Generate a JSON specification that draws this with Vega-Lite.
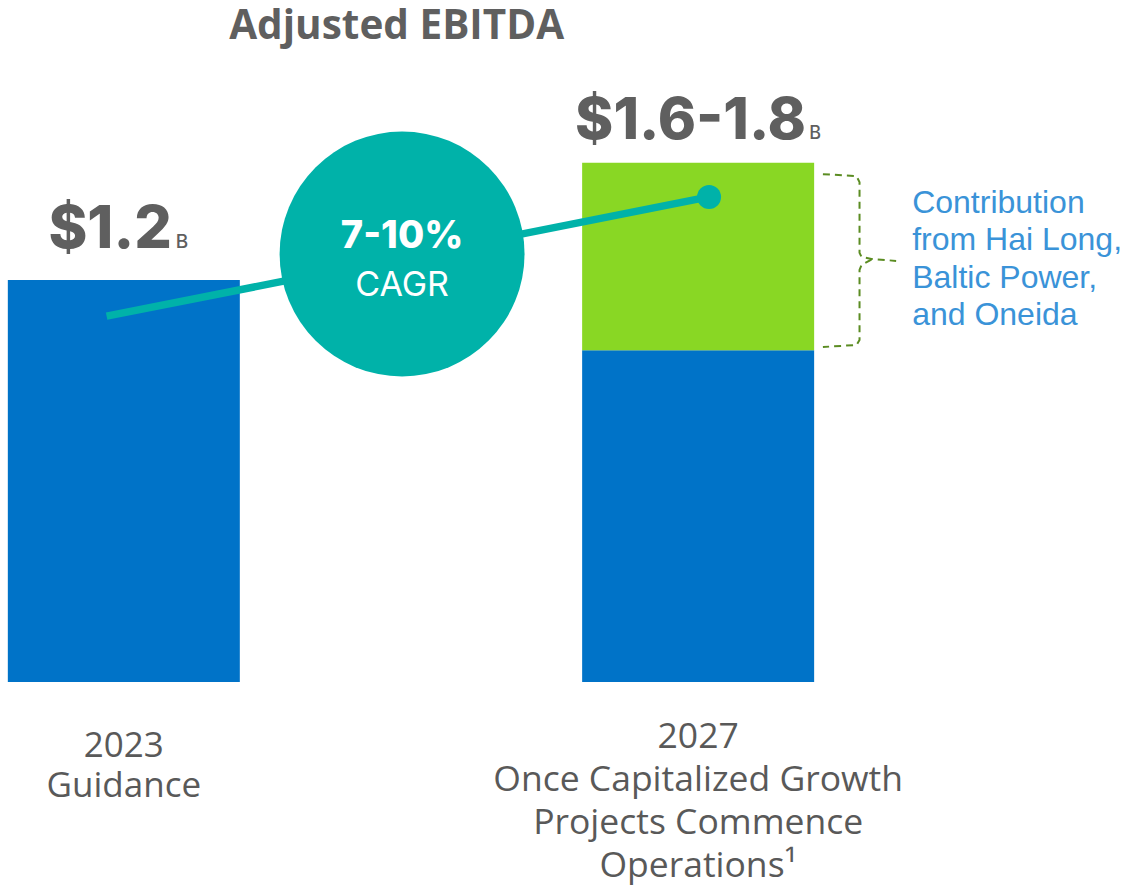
{
  "$schema": "https://vega.github.io/schema/vega-lite/v6.json",
  "width": 1122,
  "height": 890,
  "autosize": {"type": "fit", "contains": "padding"},
  "padding": 0,
  "background": "white",
  "config": {"view": {"stroke": null}},
  "datasets": {
    "ebitda": [
      {"period": "2023\nGuidance", "year": 2023, "component": "Base business", "low": 0, "high": 1.2, "label": "$1.2", "unit": "B"},
      {"period": "2027\nOnce Capitalized Growth\nProjects Commence\nOperations¹", "year": 2027, "component": "Base business", "low": 0, "high": 0.99},
      {"year": 2027, "component": "Contribution", "low": 0.99, "high": 1.55, "label": "$1.6-1.8", "unit": "B", "note": "Contribution\nfrom Hai Long,\nBaltic Power,\nand Oneida"}
    ],
    "cagr": [
      {"year": 2022.88, "value": 1.092},
      {"year": 2027.076, "value": 1.448}
    ],
    "cagr_label": [{"range": "7-10%", "metric": "CAGR"}],
    "bracket": [
      {"arm": "upper", "order": 1, "year": 2027.869, "value": 1.516},
      {"arm": "upper", "order": 2, "year": 2028.103, "value": 1.510},
      {"arm": "upper", "order": 3, "year": 2028.124, "value": 1.492},
      {"arm": "upper", "order": 4, "year": 2028.124, "value": 1.281},
      {"arm": "upper", "order": 5, "year": 2028.138, "value": 1.269},
      {"arm": "upper", "order": 6, "year": 2028.207, "value": 1.263},
      {"arm": "upper", "order": 7, "year": 2028.379, "value": 1.257},
      {"arm": "lower", "order": 1, "year": 2028.207, "value": 1.261},
      {"arm": "lower", "order": 2, "year": 2028.138, "value": 1.245},
      {"arm": "lower", "order": 3, "year": 2028.124, "value": 1.230},
      {"arm": "lower", "order": 4, "year": 2028.124, "value": 1.021},
      {"arm": "lower", "order": 5, "year": 2028.103, "value": 1.006},
      {"arm": "lower", "order": 6, "year": 2027.869, "value": 1.0}
    ],
    "title": [{"title": "Adjusted EBITDA"}]
  },
  "layer": [
    {
      "data": {"name": "ebitda"},
      "mark": {"type": "bar", "width": 232},
      "encoding": {
        "x": {"field": "year", "type": "quantitative", "scale": {"domain": [2022.1724, 2029.9103], "nice": false, "zero": false}, "axis": null},
        "y": {"field": "low", "type": "quantitative", "scale": {"domain": [-0.6209, 2.0358], "nice": false, "zero": false}, "axis": null},
        "y2": {"field": "high"},
        "color": {"field": "component", "type": "nominal", "scale": {"domain": ["Base business", "Contribution"], "range": ["#0073c8", "#89d724"]}, "legend": null}
      }
    },
    {
      "data": {"name": "cagr"},
      "mark": {"type": "line", "color": "#00b2a9", "strokeWidth": 7.5, "strokeCap": "butt"},
      "encoding": {
        "x": {"field": "year", "type": "quantitative", "scale": {"domain": [2022.1724, 2029.9103], "nice": false, "zero": false}, "axis": null},
        "y": {"field": "value", "type": "quantitative", "scale": {"domain": [-0.6209, 2.0358], "nice": false, "zero": false}, "axis": null}
      }
    },
    {
      "data": {"name": "cagr"},
      "transform": [{"filter": "datum.year > 2025"}],
      "mark": {"type": "circle", "color": "#00b2a9", "opacity": 1, "size": 576},
      "encoding": {
        "x": {"field": "year", "type": "quantitative", "scale": {"domain": [2022.1724, 2029.9103], "nice": false, "zero": false}, "axis": null},
        "y": {"field": "value", "type": "quantitative", "scale": {"domain": [-0.6209, 2.0358], "nice": false, "zero": false}, "axis": null}
      }
    },
    {
      "data": {"name": "cagr_label"},
      "mark": {"type": "circle", "color": "#00b2a9", "opacity": 1, "size": 60000},
      "encoding": {
        "x": {"datum": 2024.938, "type": "quantitative", "scale": {"domain": [2022.1724, 2029.9103], "nice": false, "zero": false}, "axis": null},
        "y": {"datum": 1.2776, "type": "quantitative", "scale": {"domain": [-0.6209, 2.0358], "nice": false, "zero": false}, "axis": null}
      }
    },
    {
      "data": {"name": "cagr_label"},
      "mark": {"type": "text", "font": "Inter", "fontWeight": 800, "fontSize": 38, "color": "white", "align": "center", "baseline": "alphabetic", "dy": -6},
      "encoding": {
        "x": {"datum": 2024.938, "type": "quantitative", "scale": {"domain": [2022.1724, 2029.9103], "nice": false, "zero": false}, "axis": null},
        "y": {"datum": 1.2776, "type": "quantitative", "scale": {"domain": [-0.6209, 2.0358], "nice": false, "zero": false}, "axis": null},
        "text": {"field": "range"}
      }
    },
    {
      "data": {"name": "cagr_label"},
      "mark": {"type": "text", "font": "Inter", "fontWeight": 400, "fontSize": 34, "color": "white", "align": "center", "baseline": "alphabetic", "dy": 42},
      "encoding": {
        "x": {"datum": 2024.938, "type": "quantitative", "scale": {"domain": [2022.1724, 2029.9103], "nice": false, "zero": false}, "axis": null},
        "y": {"datum": 1.2776, "type": "quantitative", "scale": {"domain": [-0.6209, 2.0358], "nice": false, "zero": false}, "axis": null},
        "text": {"field": "metric"}
      }
    },
    {
      "data": {"name": "bracket"},
      "mark": {"type": "line", "color": "#5b8c22", "strokeWidth": 2, "strokeDash": [7, 5]},
      "encoding": {
        "x": {"field": "year", "type": "quantitative", "scale": {"domain": [2022.1724, 2029.9103], "nice": false, "zero": false}, "axis": null},
        "y": {"field": "value", "type": "quantitative", "scale": {"domain": [-0.6209, 2.0358], "nice": false, "zero": false}, "axis": null},
        "detail": {"field": "arm"},
        "order": {"field": "order"}
      }
    },
    {
      "data": {"name": "ebitda"},
      "transform": [{"filter": "datum.year == 2023"}],
      "mark": {"type": "text", "font": "Inter", "fontWeight": 800, "fontSize": 59, "color": "#5f5f5f", "align": "right", "baseline": "alphabetic", "dx": 48, "dy": -31.5},
      "encoding": {
        "x": {"field": "year", "type": "quantitative", "scale": {"domain": [2022.1724, 2029.9103], "nice": false, "zero": false}, "axis": null},
        "y": {"field": "high", "type": "quantitative", "scale": {"domain": [-0.6209, 2.0358], "nice": false, "zero": false}, "axis": null},
        "text": {"field": "label"}
      }
    },
    {
      "data": {"name": "ebitda"},
      "transform": [{"filter": "datum.year == 2023"}],
      "mark": {"type": "text", "font": "Inter", "fontWeight": 500, "fontSize": 19, "color": "#5f5f5f", "align": "left", "baseline": "alphabetic", "dx": 52, "dy": -31.5},
      "encoding": {
        "x": {"field": "year", "type": "quantitative", "scale": {"domain": [2022.1724, 2029.9103], "nice": false, "zero": false}, "axis": null},
        "y": {"field": "high", "type": "quantitative", "scale": {"domain": [-0.6209, 2.0358], "nice": false, "zero": false}, "axis": null},
        "text": {"field": "unit"}
      }
    },
    {
      "data": {"name": "ebitda"},
      "transform": [{"filter": "datum.low > 0"}],
      "mark": {"type": "text", "font": "Inter", "fontWeight": 800, "fontSize": 58, "color": "#5f5f5f", "align": "right", "baseline": "alphabetic", "dx": 108, "dy": -24},
      "encoding": {
        "x": {"field": "year", "type": "quantitative", "scale": {"domain": [2022.1724, 2029.9103], "nice": false, "zero": false}, "axis": null},
        "y": {"field": "high", "type": "quantitative", "scale": {"domain": [-0.6209, 2.0358], "nice": false, "zero": false}, "axis": null},
        "text": {"field": "label"}
      }
    },
    {
      "data": {"name": "ebitda"},
      "transform": [{"filter": "datum.low > 0"}],
      "mark": {"type": "text", "font": "Inter", "fontWeight": 500, "fontSize": 18, "color": "#5f5f5f", "align": "left", "baseline": "alphabetic", "dx": 111, "dy": -24},
      "encoding": {
        "x": {"field": "year", "type": "quantitative", "scale": {"domain": [2022.1724, 2029.9103], "nice": false, "zero": false}, "axis": null},
        "y": {"field": "high", "type": "quantitative", "scale": {"domain": [-0.6209, 2.0358], "nice": false, "zero": false}, "axis": null},
        "text": {"field": "unit"}
      }
    },
    {
      "data": {"name": "ebitda"},
      "transform": [{"filter": "datum.low > 0"}],
      "mark": {"type": "text", "font": "Liberation Sans", "fontSize": 32, "color": "#3a93d8", "align": "left", "baseline": "alphabetic", "lineBreak": "\n", "lineHeight": 37.5, "dx": 214, "dy": 50.25},
      "encoding": {
        "x": {"field": "year", "type": "quantitative", "scale": {"domain": [2022.1724, 2029.9103], "nice": false, "zero": false}, "axis": null},
        "y": {"field": "high", "type": "quantitative", "scale": {"domain": [-0.6209, 2.0358], "nice": false, "zero": false}, "axis": null},
        "text": {"field": "note"}
      }
    },
    {
      "data": {"name": "ebitda"},
      "transform": [{"filter": "datum.low == 0 && datum.year == 2023"}],
      "mark": {"type": "text", "font": "Open Sans", "fontSize": 35, "color": "#595959", "align": "center", "baseline": "alphabetic", "lineBreak": "\n", "lineHeight": 40, "dy": 75},
      "encoding": {
        "x": {"field": "year", "type": "quantitative", "scale": {"domain": [2022.1724, 2029.9103], "nice": false, "zero": false}, "axis": null},
        "y": {"field": "low", "type": "quantitative", "scale": {"domain": [-0.6209, 2.0358], "nice": false, "zero": false}, "axis": null},
        "text": {"field": "period"}
      }
    },
    {
      "data": {"name": "ebitda"},
      "transform": [{"filter": "datum.low == 0 && datum.year == 2027"}],
      "mark": {"type": "text", "font": "Open Sans", "fontSize": 35.5, "color": "#595959", "align": "center", "baseline": "alphabetic", "lineBreak": "\n", "lineHeight": 43, "dy": 66},
      "encoding": {
        "x": {"field": "year", "type": "quantitative", "scale": {"domain": [2022.1724, 2029.9103], "nice": false, "zero": false}, "axis": null},
        "y": {"field": "low", "type": "quantitative", "scale": {"domain": [-0.6209, 2.0358], "nice": false, "zero": false}, "axis": null},
        "text": {"field": "period"}
      }
    },
    {
      "data": {"name": "title"},
      "mark": {"type": "text", "font": "Open Sans", "fontWeight": 700, "fontSize": 40.5, "color": "#5f5f5f", "align": "center", "baseline": "alphabetic"},
      "encoding": {
        "x": {"datum": 2024.9, "type": "quantitative", "scale": {"domain": [2022.1724, 2029.9103], "nice": false, "zero": false}, "axis": null},
        "y": {"datum": 1.9185, "type": "quantitative", "scale": {"domain": [-0.6209, 2.0358], "nice": false, "zero": false}, "axis": null},
        "text": {"field": "title"}
      }
    }
  ]
}
